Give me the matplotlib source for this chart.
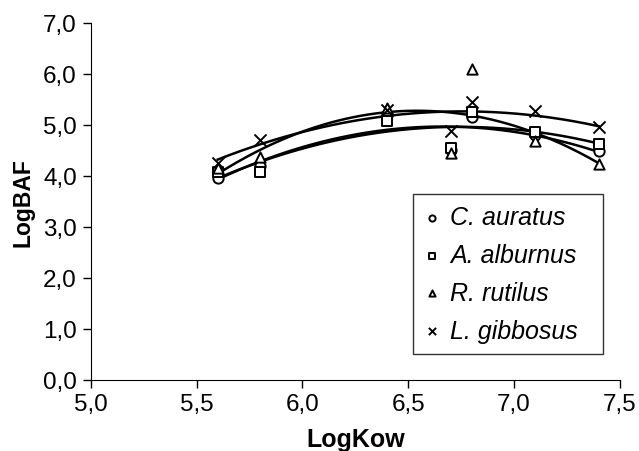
import numpy as np
import matplotlib
matplotlib.use("Agg")
import matplotlib.pyplot as plt

# LogKow values of the compounds
log_kow = [5.6, 5.8, 6.4, 6.7, 6.8, 7.1, 7.4]

# LogBAF per species
c_auratus = [3.95, 4.20, 5.20, 4.50, 5.15, 4.80, 4.49]
a_alburnus = [4.07, 4.08, 5.08, 4.55, 5.25, 4.86, 4.62]
r_rutilus = [4.15, 4.36, 5.34, 4.45, 6.09, 4.69, 4.23]
l_gibbosus = [4.25, 4.70, 5.30, 4.88, 5.44, 5.27, 4.95]

species = ["C. auratus", "A. alburnus", "R. rutilus", "L. gibbosus"]
markers = ["o", "s", "^", "x"]

x_ticks = [5.0, 5.5, 6.0, 6.5, 7.0, 7.5]
x_labels = ["5,0", "5,5", "6,0", "6,5", "7,0", "7,5"]
y_ticks = [0, 1, 2, 3, 4, 5, 6, 7]
y_labels = ["0,0", "1,0", "2,0", "3,0", "4,0", "5,0", "6,0", "7,0"]

plt.rcParams['font.family'] = ['Liberation Sans', 'DejaVu Sans']

fig = plt.figure(figsize=(6.39, 4.52), dpi=100)
ax = fig.add_axes([0.142, 0.158, 0.828, 0.789])

xs = np.linspace(5.6, 7.4, 200)
for vals, name, m in zip([c_auratus, a_alburnus, r_rutilus, l_gibbosus], species, markers):
    # polynomial (2nd order) trend line like the original
    coef = np.polyfit(log_kow, vals, 2)
    ax.plot(xs, np.polyval(coef, xs), color="black", lw=1.8, zorder=2)
    if m == "x":
        ax.scatter(log_kow, vals, marker=m, s=75, color="black", linewidths=1.4,
                   label=name, zorder=3)
    else:
        ax.scatter(log_kow, vals, marker=m, s=55, facecolors="white",
                   edgecolors="black", linewidths=1.4, label=name, zorder=3)

ax.set_xlim(5.0, 7.5)
ax.set_ylim(0, 7)
ax.set_xticks(x_ticks)
ax.set_xticklabels(x_labels)
ax.set_yticks(y_ticks)
ax.set_yticklabels(y_labels)
ax.tick_params(labelsize=17.5, length=6, width=1, direction="out", pad=4)
ax.spines["top"].set_visible(False)
ax.spines["right"].set_visible(False)
ax.set_xlabel("LogKow", fontsize=18, fontweight="bold", labelpad=8)
ax.set_ylabel("LogBAF", fontsize=16.5, fontweight="bold", labelpad=6)

# legend box stretched to the width of the original
leg = ax.legend(loc="lower left", bbox_to_anchor=(0.609, 0.072, 0.359, 0.449),
                mode="expand", prop={"style": "italic", "size": 18},
                frameon=True, fancybox=False, edgecolor="black",
                markerscale=0.6, handlelength=0.6, handletextpad=0.45,
                borderpad=0.45, labelspacing=0.55, borderaxespad=0)
leg.get_frame().set_linewidth(1.0)

fig.savefig("out.png", dpi=100)
